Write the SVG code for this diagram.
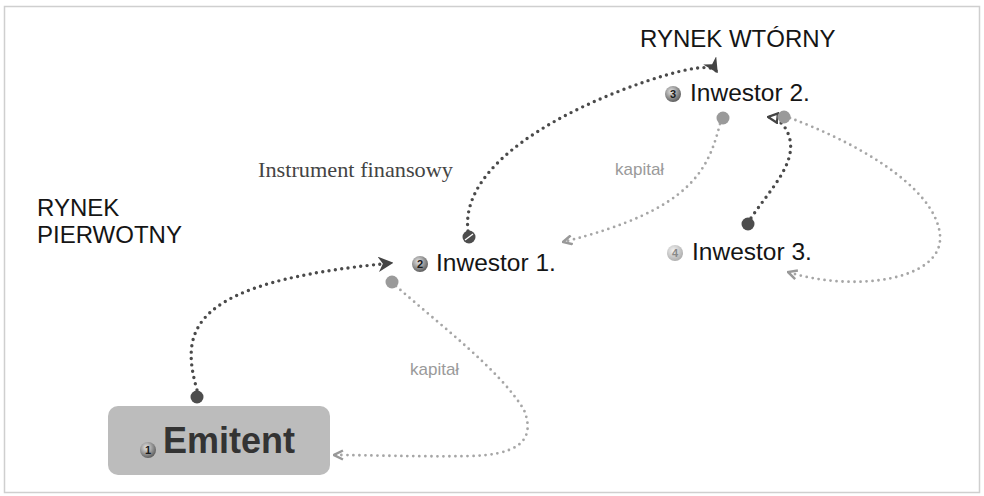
<svg xmlns="http://www.w3.org/2000/svg" width="984" height="496" viewBox="0 0 984 496">
<style>
.lbl{font-family:"Liberation Sans",Arial,sans-serif;fill:#151515}
.kap{font-family:"Liberation Sans",Arial,sans-serif;fill:#9a9a9a;font-size:17px}
.dk{fill:none;stroke:#4a4a4a;stroke-width:3.4;stroke-linecap:round;stroke-dasharray:0 6.4}
.lt{fill:none;stroke:#a6a6a6;stroke-width:2.8;stroke-linecap:round;stroke-dasharray:0 6}
.num{font-family:"Liberation Sans",Arial,sans-serif;font-weight:bold;font-size:11px;fill:#1a1a1a;text-anchor:middle}
</style>
<defs>
<radialGradient id="bg" cx="0.4" cy="0.35" r="0.7">
<stop offset="0" stop-color="#e6e6e6"/><stop offset="1" stop-color="#555"/>
</radialGradient>
<radialGradient id="bgl" cx="0.4" cy="0.35" r="0.7">
<stop offset="0" stop-color="#f2f2f2"/><stop offset="1" stop-color="#aaa"/>
</radialGradient>
<marker id="aDark" viewBox="0 0 10 10" refX="9" refY="5" markerWidth="4.5" markerHeight="4.5" orient="auto" markerUnits="strokeWidth">
<path d="M0,0 L10,5 L0,10 L3,5 Z" fill="#444"/>
</marker>
<marker id="aLight" viewBox="0 0 10 10" refX="9" refY="5" markerWidth="4" markerHeight="4" orient="auto" markerUnits="strokeWidth">
<path d="M1,1 L9,5 L1,9" fill="none" stroke="#999" stroke-width="2.2"/>
</marker>
<marker id="aOpen" viewBox="0 0 10 10" refX="9" refY="5" markerWidth="3.5" markerHeight="3.5" orient="auto" markerUnits="strokeWidth">
<path d="M1,1 L9,5 L1,9 Z" fill="#fff" stroke="#444" stroke-width="2"/>
</marker>
</defs>
<rect x="0" y="0" width="984" height="496" fill="#fff"/>
<rect x="4.5" y="6.5" width="975" height="486" fill="none" stroke="#cfcfcf" stroke-width="1.5"/>

<text class="lbl" x="640" y="47" font-size="24">RYNEK WTÓRNY</text>
<text class="lbl" x="37" y="216" font-size="24">RYNEK</text>
<text class="lbl" x="37" y="243" font-size="24">PIERWOTNY</text>
<text x="258" y="177" font-family="'Liberation Serif','Times New Roman',serif" font-size="21" fill="#444" textLength="195" lengthAdjust="spacingAndGlyphs">Instrument finansowy</text>

<g id="connectors">
<path class="dk" d="M197,390 C180,330 188,282 392,263" marker-end="url(#aDark)"/>
<path class="lt" d="M396,286 C440,325 500,370 524,410 C538,445 510,455 470,456 C420,457 370,455 334,455" marker-end="url(#aLight)"/>
<path class="dk" d="M468,231 C460,165 560,110 650,80 C690,67 712,64 717,72" marker-end="url(#aDark)"/>
<path class="lt" d="M720,124 C708,170 692,210 563,242" marker-end="url(#aLight)"/>
<path class="dk" d="M751,218 C770,190 795,165 790,140 C787,125 777,118 768,117" marker-end="url(#aOpen)"/>
<path class="lt" d="M790,118 C850,140 935,185 940,235 C944,282 850,292 788,272" marker-end="url(#aLight)"/>
<text class="kap" x="410" y="375">kapitał</text>
<text class="kap" x="615" y="175">kapitał</text>
</g>

<g id="emitent">
<rect x="108" y="406" width="222" height="69" rx="10" fill="#bcbcbc"/>
<circle cx="197" cy="397" r="6.5" fill="#4d4d4d"/>
<circle cx="148" cy="450" r="8" fill="url(#bg)"/>
<text class="num" x="148" y="454">1</text>
<text x="163" y="453" font-family="'Liberation Sans',Arial,sans-serif" font-size="36" font-weight="bold" fill="#333">Emitent</text>
</g>

<g id="inwestor1">
<circle cx="420" cy="264" r="8" fill="url(#bg)"/>
<text class="num" x="420" y="268">2</text>
<text class="lbl" x="436" y="271" font-size="24.5">Inwestor 1.</text>
<circle cx="469" cy="237" r="6.5" fill="#4d4d4d"/>
<line x1="465" y1="240" x2="473" y2="234" stroke="#fff" stroke-width="1.3"/>
<circle cx="392" cy="282" r="6.5" fill="#9a9a9a"/>
</g>

<g id="inwestor2">
<circle cx="673" cy="94" r="8" fill="url(#bg)"/>
<text class="num" x="673" y="98">3</text>
<text class="lbl" x="690" y="101" font-size="24.5">Inwestor 2.</text>
<circle cx="723" cy="118" r="6.5" fill="#9a9a9a"/>
<circle cx="784" cy="117" r="6.5" fill="#9a9a9a"/>
</g>

<g id="inwestor3">
<circle cx="675" cy="253" r="8" fill="url(#bgl)"/>
<text class="num" x="675" y="257" style="fill:#888">4</text>
<text class="lbl" x="692" y="260" font-size="24.5">Inwestor 3.</text>
<circle cx="748" cy="224" r="6.5" fill="#4d4d4d"/>
</g>
</svg>
